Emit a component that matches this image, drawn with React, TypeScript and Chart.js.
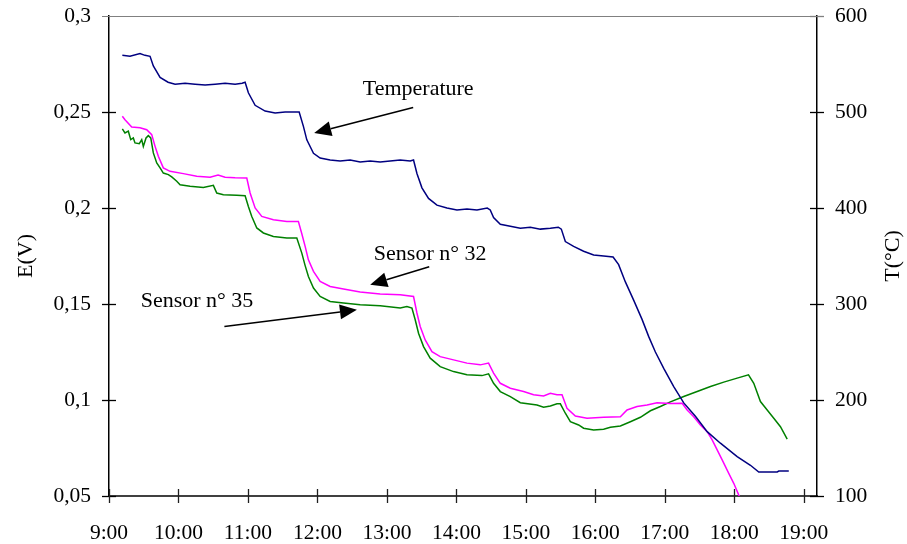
import React, { useEffect, useRef } from "react";
import { Chart, registerables } from "chart.js";

Chart.register(...registerables);

// ---- axis ticks ----
const timeTicks = [9, 10, 11, 12, 13, 14, 15, 16, 17, 18, 19];
const timeTickLabels = ["9:00", "10:00", "11:00", "12:00", "13:00", "14:00", "15:00", "16:00", "17:00", "18:00", "19:00"];
const eTicks = [0.05, 0.1, 0.15, 0.2, 0.25, 0.3];
const eTickLabels = ["0,05", "0,1", "0,15", "0,2", "0,25", "0,3"];
const tTicks = [100, 200, 300, 400, 500, 600];
const tTickLabels = ["100", "200", "300", "400", "500", "600"];

// ---- Temperature (°C, right axis), time in decimal hours ----
const tempTime = [
  9.192, 9.302, 9.446, 9.518, 9.591, 9.638, 9.735, 9.85, 9.951, 10.095, 10.239, 10.383, 10.527, 10.671, 10.815,
  10.916, 10.959, 11.006, 11.103, 11.247, 11.391, 11.535, 11.679, 11.737, 11.798, 11.847, 11.943, 12.039, 12.183,
  12.327, 12.471, 12.615, 12.759, 12.903, 13.047, 13.191, 13.335, 13.383, 13.432, 13.504, 13.599, 13.72, 13.864,
  14.008, 14.152, 14.296, 14.444, 14.487, 14.535, 14.632, 14.776, 14.92, 15.064, 15.208, 15.352, 15.467, 15.51,
  15.568, 15.687, 15.831, 15.975, 16.119, 16.255, 16.335, 16.432, 16.551, 16.672, 16.768, 16.864, 16.984, 17.128,
  17.272, 17.44, 17.609, 17.8, 18.041, 18.232, 18.352, 18.617, 18.64, 18.784,
];
const tempValues = [
  559, 558, 561, 559, 558, 548, 536, 531, 529, 530, 529, 528, 529, 530, 529,
  530, 531, 520, 507, 501, 499, 500, 500, 500, 485, 471, 457, 452, 450,
  449, 450, 448, 449, 448, 449, 450, 449, 450, 436, 421, 410, 403, 400,
  398, 399, 398, 400, 398, 390, 383, 381, 379, 380, 378, 379, 380, 378,
  365, 360, 355, 351, 350, 349, 341, 323, 304, 284, 266, 250, 233, 214,
  197, 183, 167, 155, 141, 132, 125, 125, 126, 126,
];

// ---- Sensor n° 32 (V, left axis) ----
const s32Time = [
  9.192, 9.23, 9.327, 9.446, 9.543, 9.615, 9.663, 9.71, 9.782, 9.879, 10.07, 10.263, 10.455, 10.57, 10.671, 10.815,
  10.983, 11.031, 11.103, 11.199, 11.366, 11.559, 11.726, 11.775, 11.823, 11.87, 11.943, 12.039, 12.183, 12.375,
  12.615, 12.903, 13.191, 13.383, 13.432, 13.479, 13.551, 13.648, 13.767, 13.959, 14.152, 14.344, 14.463, 14.535,
  14.632, 14.776, 14.967, 15.111, 15.255, 15.352, 15.448, 15.52, 15.592, 15.712, 15.88, 16.119, 16.36, 16.456,
  16.6, 16.744, 16.888, 17.08, 17.249, 17.321, 17.416, 17.512, 17.609, 17.681, 17.753, 17.825, 17.92, 17.992,
  18.064, 18.088,
];
const s32Values = [
  0.2478, 0.246, 0.2422, 0.2418, 0.2408, 0.2382, 0.2321, 0.2269, 0.2209, 0.2191, 0.2179, 0.2165, 0.216, 0.2172, 0.216, 0.2157,
  0.2156, 0.2078, 0.2, 0.1956, 0.1939, 0.193, 0.193, 0.1866, 0.18, 0.173, 0.167, 0.1617, 0.1591, 0.1578,
  0.1562, 0.1552, 0.1548, 0.1539, 0.1453, 0.1383, 0.1313, 0.1252, 0.1226, 0.1209, 0.1192, 0.1183, 0.1192, 0.114,
  0.1087, 0.1061, 0.1044, 0.1027, 0.1021, 0.1035, 0.1027, 0.1027, 0.0957, 0.0917, 0.0905, 0.091, 0.0913, 0.0948,
  0.0966, 0.0974, 0.0986, 0.0982, 0.0983, 0.0948, 0.0913, 0.087, 0.0835, 0.0792, 0.074, 0.0688, 0.0618, 0.0566,
  0.0505, 0.049,
];

// ---- Sensor n° 35 (V, left axis) ----
const s35Time = [
  9.192, 9.23, 9.278, 9.313, 9.35, 9.374, 9.436, 9.471, 9.494, 9.533, 9.566, 9.601, 9.638, 9.687, 9.735, 9.782,
  9.854, 9.903, 9.975, 10.023, 10.167, 10.358, 10.502, 10.551, 10.646, 10.839, 10.959, 11.006, 11.055, 11.127,
  11.222, 11.366, 11.559, 11.703, 11.775, 11.823, 11.87, 11.943, 12.039, 12.183, 12.375, 12.615, 12.903, 13.191,
  13.288, 13.36, 13.407, 13.455, 13.527, 13.623, 13.767, 13.959, 14.152, 14.368, 14.463, 14.535, 14.632, 14.776,
  14.92, 15.16, 15.255, 15.352, 15.448, 15.496, 15.568, 15.64, 15.759, 15.831, 15.975, 16.119, 16.216, 16.36,
  16.504, 16.648, 16.792, 16.936, 17.08, 17.272, 17.465, 17.657, 17.848, 18.041, 18.204, 18.28, 18.376, 18.473,
  18.568, 18.664, 18.761,
];
const s35Values = [
  0.2412, 0.2391, 0.24, 0.2356, 0.2365, 0.2339, 0.2335, 0.2356, 0.2321, 0.2365, 0.2377, 0.2365, 0.2287, 0.2235, 0.2209, 0.2182,
  0.2174, 0.2162, 0.2139, 0.2121, 0.2113, 0.2107, 0.2118, 0.2078, 0.2069, 0.2066, 0.2064, 0.2008, 0.1956, 0.1896,
  0.187, 0.1852, 0.1844, 0.1844, 0.1765, 0.17, 0.1643, 0.1583, 0.1539, 0.1513, 0.1505, 0.1496, 0.1491, 0.1479,
  0.1487, 0.1479, 0.1418, 0.1348, 0.1278, 0.1218, 0.1174, 0.1148, 0.1131, 0.1127, 0.1136, 0.1087, 0.1044, 0.1018,
  0.0986, 0.0974, 0.0962, 0.0969, 0.098, 0.098, 0.0931, 0.0887, 0.087, 0.0853, 0.0844, 0.0848, 0.0858, 0.0865,
  0.0887, 0.091, 0.0944, 0.0966, 0.099, 0.1018, 0.1044, 0.107, 0.1093, 0.1114, 0.1131, 0.1087, 0.0992, 0.0948,
  0.0905, 0.0861, 0.0796,
];

// ---- annotations (data coordinates: hours, volts) ----
const annotations = [
  { text: "Temperature", tx: 13.45, ty: 0.2617, fx: 13.378, fy: 0.2523, ax: 11.953, ay: 0.2391 },
  { text: "Sensor n° 32", tx: 13.623, ty: 0.1757, fx: 13.609, fy: 0.1694, ax: 12.759, ay: 0.16 },
  { text: "Sensor n° 35", tx: 10.267, ty: 0.1517, fx: 10.661, fy: 0.1383, ax: 12.568, ay: 0.147 },
];

const SERIF = "'Liberation Serif', 'Times New Roman', serif";

const toXY = (xs: number[], ys: number[]) => xs.map((x, i) => ({ x, y: ys[i] }));

const decoPlugin = {
  id: "deco",
  afterDraw(chart: any) {
    const { ctx, chartArea, scales } = chart;
    const xs = scales.x, yl = scales.y, yr = scales.y2;
    ctx.save();
    // top border
    ctx.strokeStyle = "#808080";
    ctx.lineWidth = 1;
    ctx.beginPath();
    ctx.moveTo(chartArea.left - 7, chartArea.top + 0.5);
    ctx.lineTo(chartArea.right, chartArea.top + 0.5);
    ctx.stroke();
    // tick marks (crossing)
    ctx.lineWidth = 1.3;
    ctx.strokeStyle = "#000";
    eTicks.forEach((v) => {
      const p = Math.round(yl.getPixelForValue(v)) + 0.5;
      if (v === 0.3) return;
      ctx.beginPath();
      ctx.moveTo(chartArea.left - 7, p);
      ctx.lineTo(chartArea.left + 7, p);
      ctx.stroke();
    });
    tTicks.forEach((v) => {
      const p = Math.round(yr.getPixelForValue(v)) + 0.5;
      ctx.strokeStyle = v === 600 ? "#808080" : "#000";
      ctx.beginPath();
      ctx.moveTo(chartArea.right - 7, p);
      ctx.lineTo(chartArea.right + 7, p);
      ctx.stroke();
    });
    ctx.strokeStyle = "#202020";
    timeTicks.forEach((v) => {
      const p = Math.round(xs.getPixelForValue(v)) + 0.5;
      ctx.beginPath();
      ctx.moveTo(p, chartArea.bottom - 7);
      ctx.lineTo(p, chartArea.bottom + 7);
      ctx.stroke();
    });
    // axis titles
    ctx.fillStyle = "#000";
    ctx.font = `22px ${SERIF}`;
    ctx.textAlign = "center";
    ctx.textBaseline = "middle";
    const midY = (chartArea.top + chartArea.bottom) / 2;
    ctx.save();
    ctx.translate(26, midY);
    ctx.rotate(-Math.PI / 2);
    ctx.fillText("E(V)", 0, 0);
    ctx.restore();
    ctx.save();
    ctx.translate(chart.width - 14, midY);
    ctx.rotate(-Math.PI / 2);
    ctx.fillText("T(°C)", 0, 0);
    ctx.restore();
    // annotations
    ctx.font = `22px ${SERIF}`;
    annotations.forEach((a) => {
      const tx = xs.getPixelForValue(a.tx), ty = yl.getPixelForValue(a.ty);
      ctx.fillStyle = "#000";
      ctx.fillText(a.text, tx, ty);
      const x1 = xs.getPixelForValue(a.fx), y1 = yl.getPixelForValue(a.fy);
      const x2 = xs.getPixelForValue(a.ax), y2 = yl.getPixelForValue(a.ay);
      const ang = Math.atan2(y2 - y1, x2 - x1);
      const L = 17, W = 7.5;
      const bx = x2 - L * Math.cos(ang), by = y2 - L * Math.sin(ang);
      ctx.strokeStyle = "#000";
      ctx.lineWidth = 1.5;
      ctx.beginPath();
      ctx.moveTo(x1, y1);
      ctx.lineTo(bx, by);
      ctx.stroke();
      ctx.beginPath();
      ctx.moveTo(x2, y2);
      ctx.lineTo(bx + W * Math.sin(ang), by - W * Math.cos(ang));
      ctx.lineTo(bx - W * Math.sin(ang), by + W * Math.cos(ang));
      ctx.closePath();
      ctx.fill();
    });
    ctx.restore();
  },
};

export default function App() {
  const ref = useRef<HTMLCanvasElement | null>(null);
  useEffect(() => {
    if (!ref.current) return;
    const tickFont = { family: SERIF, size: 21.5 };
    const chart = new Chart(ref.current, {
      type: "line",
      data: {
        datasets: [
          { label: "Temperature", data: toXY(tempTime, tempValues), yAxisID: "y2", borderColor: "#000080", borderWidth: 1.5, pointRadius: 0, tension: 0 },
          { label: "Sensor n° 32", data: toXY(s32Time, s32Values), yAxisID: "y", borderColor: "#FF00FF", borderWidth: 1.5, pointRadius: 0, tension: 0 },
          { label: "Sensor n° 35", data: toXY(s35Time, s35Values), yAxisID: "y", borderColor: "#008000", borderWidth: 1.5, pointRadius: 0, tension: 0 },
        ],
      },
      options: {
        responsive: false,
        devicePixelRatio: 1,
        animation: false,
        layout: { padding: { top: 16, left: 0, right: 0, bottom: 0 } },
        plugins: { legend: { display: false }, tooltip: { enabled: false } },
        scales: {
          x: {
            type: "linear",
            position: "bottom",
            min: 9,
            max: 19.19,
            afterBuildTicks: (s: any) => { s.ticks = timeTicks.map((v) => ({ value: v })); },
            afterFit: (s: any) => { s.height = 48; s.paddingLeft = 0; s.paddingRight = 0; },
            ticks: {
              autoSkip: false,
              maxRotation: 0,
              padding: 24,
              color: "#000",
              font: tickFont,
              callback: (v: any) => timeTickLabels[timeTicks.indexOf(Number(v))] ?? "",
            },
            grid: { drawOnChartArea: false, drawTicks: false },
            border: { color: "#404040", width: 2 },
          },
          y: {
            type: "linear",
            position: "left",
            min: 0.05,
            max: 0.3,
            afterBuildTicks: (s: any) => { s.ticks = eTicks.map((v) => ({ value: v })); },
            afterFit: (s: any) => { s.width = 109; s.paddingTop = 0; s.paddingBottom = 0; },
            ticks: {
              padding: 18,
              color: "#000",
              font: tickFont,
              callback: (v: any) => {
                const i = eTicks.findIndex((t) => Math.abs(t - Number(v)) < 1e-6);
                return i >= 0 ? eTickLabels[i] : "";
              },
            },
            grid: { drawOnChartArea: false, drawTicks: false },
            border: { color: "#000", width: 1.5 },
          },
          y2: {
            type: "linear",
            position: "right",
            min: 100,
            max: 600,
            afterBuildTicks: (s: any) => { s.ticks = tTicks.map((v) => ({ value: v })); },
            afterFit: (s: any) => { s.width = 90; s.paddingTop = 0; s.paddingBottom = 0; },
            ticks: {
              padding: 18,
              color: "#000",
              font: tickFont,
              callback: (v: any) => tTickLabels[tTicks.indexOf(Number(v))] ?? "",
            },
            grid: { drawOnChartArea: false, drawTicks: false },
            border: { color: "#000", width: 1.5 },
          },
        },
      },
      plugins: [decoPlugin],
    } as any);
    return () => chart.destroy();
  }, []);
  return (
    <div style={{ position: "absolute", left: 0, top: 0, width: 907, height: 544, background: "#fff" }}>
      <canvas ref={ref} width={907} height={544} style={{ display: "block", width: 907, height: 544 }} />
    </div>
  );
}
